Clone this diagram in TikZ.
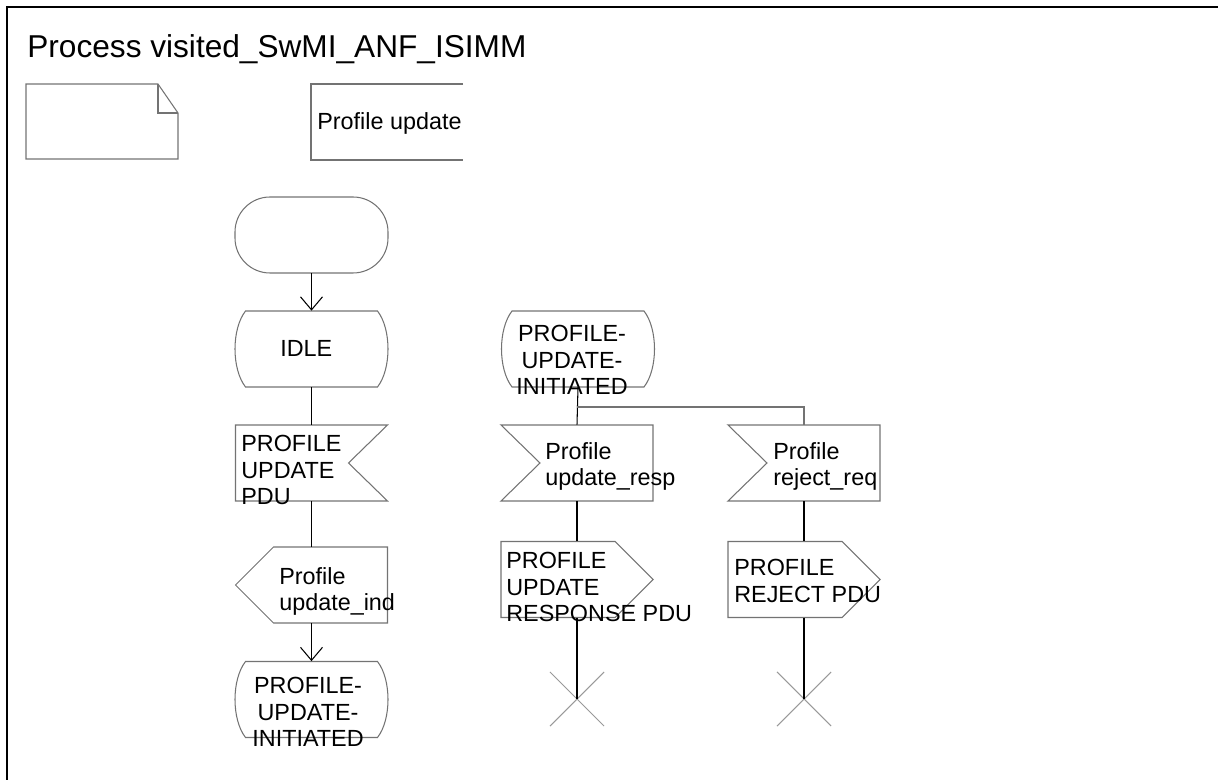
\documentclass[tikz,border=0pt]{standalone}
\usepackage{fontspec}
\setmainfont{Liberation Sans}
\usetikzlibrary{arrows.meta,shapes.misc}

\tikzset{
  sdl/.style={draw=black!55, line width=0.6pt},
  flow/.style={draw=black, line width=0.6pt},
  flowto/.style={flow, -{Straight Barb[length=7.4pt,width=12.5pt]}},
  symbox/.style={rectangle, minimum width=3.06cm, minimum height=1.52cm, inner sep=0pt},
  txt/.style={font=\fontsize{13.3pt}{15pt}\selectfont, align=left, inner sep=0pt},
  stopx/.style={cross out, draw=black!40, line width=0.6pt, minimum size=1.06cm, inner sep=0pt}
}

\begin{document}
\begin{tikzpicture}[x=0.02cm, y=-0.02cm]
    \def\stateshape{(-66,-38) -- (66,-38) .. controls (80,-20) and (80,20) .. (66,38) -- (-66,38) .. controls (-80,20) and (-80,-20) .. (-66,-38) -- cycle};
    \def\inshapeR{(-76,-38) -- (76,-38) -- (37,0) -- (76,38) -- (-76,38) -- cycle};
    \def\inshapeL{(-76,-38) -- (76,-38) -- (76,38) -- (-76,38) -- (-37,0) -- cycle};
    \def\outshapeR{(-76,-38) -- (38,-38) -- (76,0) -- (38,38) -- (-76,38) -- cycle};
    \def\outshapeL{(-38,-38) -- (76,-38) -- (76,38) -- (-38,38) -- (-76,0) -- cycle};
    \useasboundingbox (0,0) rectangle (1218,780);
    \draw[line width=1.1pt] (7,780) -- (7,7) -- (1218,7);
    \node[anchor=base west, inner sep=0pt, font=\fontsize{18pt}{21pt}\selectfont] (title) at (27,57.5) {Process visited\_SwMI\_ANF\_ISIMM};
	\draw[sdl] (26,84) -- (158,84) -- (178,113) -- (178,159) -- (26,159) -- cycle;
	\draw[sdl] (158,84) -- (158,113) -- (178,113);
	\draw[sdl] (463,84) -- (311,84) -- (311,160) -- (463,160);
	\node[txt, anchor=base west] (page) at (317,130) {Profile update};
    % left column
	\node[symbox] (start) at (311.5,235) {};
	\node[symbox] (idle) at (311.5,349) {};
	\node[symbox] (pduin) at (311.5,463) {};
	\node[symbox] (indout) at (311.5,585) {};
	\node[symbox] (initB) at (311.5,699.5) {};
	\draw[sdl, rounded corners=0.7cm] (235,197) rectangle (388,273);
	\draw[sdl, shift={(idle.center)}] \stateshape;
	\draw[sdl, shift={(pduin.center)}] \inshapeR;
	\draw[sdl, shift={(indout.center)}] \outshapeL;
	\draw[sdl, shift={(initB.center)}] \stateshape;
	\node[txt, anchor=north west] at (280,340) {IDLE};
	\node[txt, anchor=north west] at (241,435) {PROFILE\\UPDATE\\PDU};
	\node[txt, anchor=north west] at (279,567) {Profile\\update\_ind};
	\node[txt, anchor=north, align=center] at (308,677) {PROFILE-\\UPDATE-\\INITIATED};
	\draw[flowto] (start.south) -- (idle.north);
	\draw[flow] (idle.south) -- (pduin.north);
	\draw[flow] (pduin.south) -- (indout.north);
	\draw[flowto] (indout.south) -- (initB.north);
    % right columns
	\node[symbox] (initA) at (578,349) {};
	\node[symbox] (respin) at (577,463) {};
	\node[symbox] (rejin) at (804,463) {};
	\node[symbox] (respout) at (577,579.5) {};
	\node[symbox] (rejout) at (804,579.5) {};
	\node[stopx] (stopA) at (577,699) {};
	\node[stopx] (stopB) at (804,699) {};
	\coordinate (fork) at (577,407);
	\draw[sdl, shift={(initA.center)}] \stateshape;
	\draw[sdl, shift={(respin.center)}] \inshapeL;
	\draw[sdl, shift={(rejin.center)}] \inshapeL;
	\draw[sdl, shift={(respout.center)}] \outshapeR;
	\draw[sdl, shift={(rejout.center)}] \outshapeR;
	\node[txt, anchor=north, align=center] at (572,325) {PROFILE-\\UPDATE-\\INITIATED};
	\node[txt, anchor=north west] at (545,442) {Profile\\update\_resp};
	\node[txt, anchor=north west] at (773,442) {Profile\\reject\_req};
	\node[txt, anchor=north west] at (506,552) {PROFILE\\UPDATE\\RESPONSE PDU};
	\node[txt, anchor=north west] at (734,559) {PROFILE\\REJECT PDU};
	\draw[flow] (initA.south) -- (respin.north);
	\draw[sdl] (fork) -| (rejin.north);
	\draw[flow] (respin.south) -- (respout.north);
	\draw[flow] (rejin.south) -- (rejout.north);
	\draw[flow] (respout.south) -- (stopA.center);
	\draw[flow] (rejout.south) -- (stopB.center);
\end{tikzpicture}
\end{document}
